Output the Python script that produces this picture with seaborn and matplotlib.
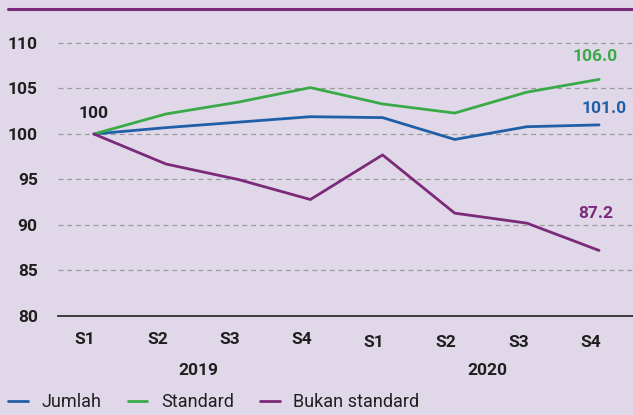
import pandas as pd
import matplotlib.pyplot as plt
import seaborn as sns
from matplotlib.lines import Line2D

# data
suku = ["S1", "S2", "S3", "S4", "S1", "S2", "S3", "S4"]
tahun = ["2019", "2020"]
jumlah = [100, 100.7, 101.3, 101.9, 101.8, 99.4, 100.8, 101.0]
standard = [100, 102.2, 103.5, 105.1, 103.3, 102.3, 104.6, 106.0]
bukan_standard = [100, 96.7, 95.0, 92.8, 97.7, 91.3, 90.2, 87.2]

series = ["Jumlah", "Standard", "Bukan standard"]
warna = {"Jumlah": "#1F5FA8", "Standard": "#3AAA48", "Bukan standard": "#7B2A7A"}

rows = []
for nama, vals in zip(series, [jumlah, standard, bukan_standard]):
    for i, v in enumerate(vals):
        rows.append({"idx": i, "nilai": v, "siri": nama})
df = pd.DataFrame(rows)

bg = "#E0D8E8"
ink = "#1e1e1e"
sns.set_style("white")
plt.rcParams["font.family"] = ["Roboto", "DejaVu Sans"]

fig = plt.figure(figsize=(6.33, 4.15), dpi=100, facecolor=bg)
ax = fig.add_axes([0.0924, 0.2386, 0.9076, 0.7012])
ax.set_facecolor(bg)

sns.lineplot(data=df, x="idx", y="nilai", hue="siri", palette=warna,
             linewidth=2, legend=False, ax=ax)

ax.set_xlim(-0.49, 7.47)
ax.set_ylim(80, 111.98)
ax.set_yticks([80, 85, 90, 95, 100, 105, 110])
ax.set_yticklabels(["80", "85", "90", "95", "100", "105", "110"],
                   fontsize=12.5, fontweight="bold", color=ink)
ax.tick_params(axis="y", length=0, pad=15)
ax.set_xticks([])
ax.set_xlabel("")
ax.set_ylabel("")

for yv in [85, 90, 95, 100, 105, 110]:
    ax.axhline(yv, color="#9a9a9a", linestyle=(0, (4, 3)), linewidth=0.9, zorder=0)

for s in ["top", "right", "left"]:
    ax.spines[s].set_visible(False)
ax.spines["bottom"].set_color(ink)
ax.spines["bottom"].set_linewidth(1.2)

# x category labels
for i, s in enumerate(suku):
    off = -0.0825 if i < 4 else -0.091
    ax.text(i - 0.12, off, s, transform=ax.get_xaxis_transform(), ha="center", va="center",
            fontsize=12.5, fontweight="bold", color=ink)
ax.text(1.45, -0.186, tahun[0], transform=ax.get_xaxis_transform(), ha="center", va="center",
        fontsize=12.5, fontweight="bold", color=ink)
ax.text(5.45, -0.186, tahun[1], transform=ax.get_xaxis_transform(), ha="center", va="center",
        fontsize=12.5, fontweight="bold", color=ink)

# value labels
ax.text(0, 102.3, "100", ha="center", va="center", fontsize=12.5, fontweight="bold", color=ink)
ax.text(6.95, standard[-1] + 2.5, f"{standard[-1]:.1f}", ha="center", va="center",
        fontsize=12.5, fontweight="bold", color=warna["Standard"])
ax.text(7.07, jumlah[-1] + 1.8, f"{jumlah[-1]:.1f}", ha="center", va="center",
        fontsize=12.5, fontweight="bold", color=warna["Jumlah"])
ax.text(6.95, bukan_standard[-1] + 4.1, f"{bukan_standard[-1]:.1f}", ha="center", va="center",
        fontsize=12.5, fontweight="bold", color=warna["Bukan standard"])

# top rule
fig.add_artist(Line2D([0.013, 1.0], [1 - 9 / 415, 1 - 9 / 415], color="#7B2A7A",
                      linewidth=2.2, transform=fig.transFigure))

handles = [Line2D([0], [0], color=warna[n], linewidth=2) for n in series]
fig.legend(handles, series, loc="center left", bbox_to_anchor=(0.0126, 0.031), ncol=3,
           frameon=False, fontsize=13, handlelength=1.1, columnspacing=1.45,
           handletextpad=0.75, labelcolor=ink, borderpad=0, borderaxespad=0)

fig.savefig("out.png", dpi=100, facecolor=bg)
